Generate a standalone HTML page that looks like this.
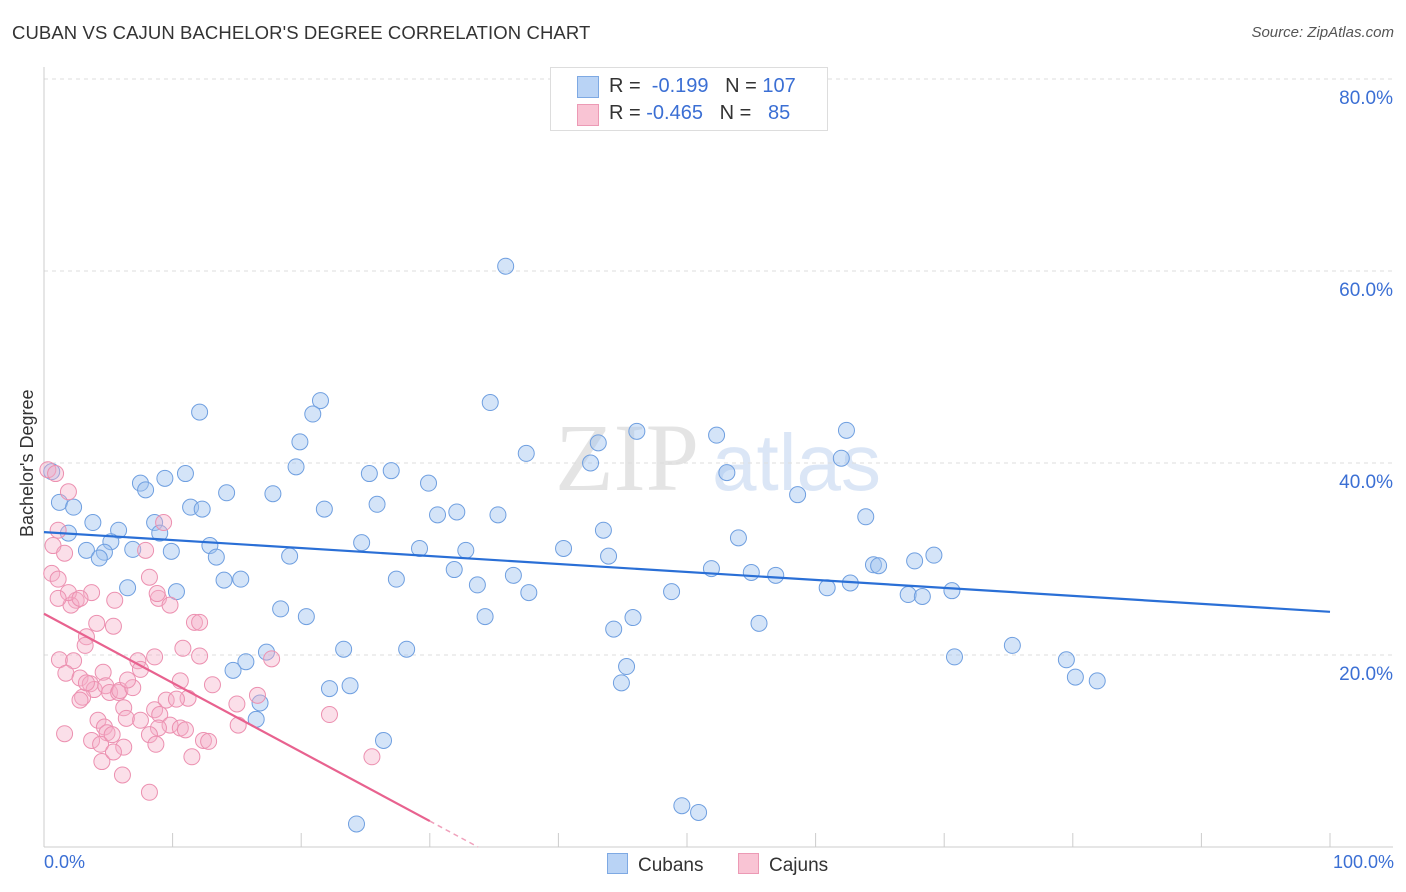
<!DOCTYPE html>
<html><head><meta charset="utf-8">
<style>
body{margin:0;background:#fff;font-family:"Liberation Sans",sans-serif;}
#wrap{position:relative;width:1406px;height:892px;overflow:hidden;}
.t{position:absolute;white-space:nowrap;}
</style></head>
<body>
<div id="wrap">
<div class="t" style="left:12px;top:22px;font-size:18.5px;color:#333;letter-spacing:0.1px">CUBAN VS CAJUN BACHELOR'S DEGREE CORRELATION CHART</div>
<div class="t" style="right:12px;top:24px;font-size:15px;color:#555;font-style:italic;">Source: ZipAtlas.com</div>
<svg id="plot" width="1406" height="892" style="position:absolute;left:0;top:0"></svg>
<div class="t" style="left:550px;top:67px;width:276px;height:62px;border:1px solid #ddd;background:#fff;font-size:20px;">
  <div style="position:absolute;left:26px;top:8px;width:20px;height:20px;background:#b9d3f5;border:1px solid #7ea9e3;"></div>
  <div style="position:absolute;left:58px;top:7px;color:#333">R = &nbsp;<span style="color:#3b6fd4">-0.199</span> &nbsp;&nbsp;N = <span style="color:#3b6fd4">107</span></div>
  <div style="position:absolute;left:26px;top:36px;width:20px;height:20px;background:#f9c4d4;border:1px solid #ec9ab5;"></div>
  <div style="position:absolute;left:58px;top:34px;color:#333">R = <span style="color:#3b6fd4">-0.465</span> &nbsp;&nbsp;N = &nbsp;&nbsp;<span style="color:#3b6fd4">85</span></div>
</div>
<div class="t" style="left:17px;top:537px;transform:rotate(-90deg);transform-origin:0 0;font-size:18px;color:#333;">Bachelor's Degree</div>
<div class="t" style="left:44px;top:852px;font-size:18px;color:#3b6fd4">0.0%</div>
<div class="t" style="right:12px;top:852px;font-size:18px;color:#3b6fd4">100.0%</div>
<div class="t" style="left:607px;top:853px;font-size:19px;color:#333"><span style="display:inline-block;width:19px;height:19px;background:#b9d3f5;border:1px solid #7ea9e3;vertical-align:-3px;margin-right:10px"></span>Cubans</div>
<div class="t" style="left:738px;top:853px;font-size:19px;color:#333"><span style="display:inline-block;width:19px;height:19px;background:#f9c4d4;border:1px solid #ec9ab5;vertical-align:-3px;margin-right:10px"></span>Cajuns</div>
</div>
<script>
const yTicks=[20,40,60,80];
const yTickLabels=["20.0%","40.0%","60.0%","80.0%"];
const xTicks=[0,10,20,30,40,50,60,70,80,90,100];
const cubanX=[35.9,12.1,21.5,20.9,34.7,19.9,43.1,46.1,52.3,62.4,37.5,42.5,62.0,53.1,19.6,25.3,27.0,11.0,9.4,7.5,7.9,29.9,0.6,1.2,2.3,14.2,17.8,25.9,30.6,32.1,35.3,58.6,63.9,11.4,12.3,21.8,8.6,9.0,3.8,5.8,1.9,5.2,43.5,54.0,3.3,4.7,4.3,6.9,9.9,12.9,13.4,24.7,29.2,32.8,40.4,19.1,43.9,69.2,67.7,31.9,27.4,36.5,33.7,51.9,55.0,56.9,64.5,64.9,14.0,15.3,6.5,10.3,37.7,48.8,60.9,62.7,67.2,68.3,70.6,18.4,20.4,34.3,44.3,45.8,55.6,75.3,70.8,79.5,80.2,81.9,17.3,15.7,23.3,28.2,14.7,45.3,44.9,22.2,23.8,16.8,16.5,26.4,49.6,50.9,24.3];
const cubanY=[60.5,45.3,46.5,45.1,46.3,42.2,42.1,43.3,42.9,43.4,41.0,40.0,40.5,39.0,39.6,38.9,39.2,38.9,38.4,37.9,37.2,37.9,39.1,35.9,35.4,36.9,36.8,35.7,34.6,34.9,34.6,36.7,34.4,35.4,35.2,35.2,33.8,32.7,33.8,33.0,32.7,31.8,33.0,32.2,30.9,30.7,30.1,31.0,30.8,31.4,30.2,31.7,31.1,30.9,31.1,30.3,30.3,30.4,29.8,28.9,27.9,28.3,27.3,29.0,28.6,28.3,29.4,29.3,27.8,27.9,27.0,26.6,26.5,26.6,27.0,27.5,26.3,26.1,26.7,24.8,24.0,24.0,22.7,23.9,23.3,21.0,19.8,19.5,17.7,17.3,20.3,19.3,20.6,20.6,18.4,18.8,17.1,16.5,16.8,15.0,13.3,11.1,4.3,3.6,2.4];
const cajunX=[0.3,0.9,1.9,1.1,0.7,1.6,0.6,1.1,2.5,2.1,1.9,1.1,3.7,2.8,4.1,3.3,3.2,5.5,5.4,1.2,2.3,1.7,2.8,3.6,3.9,3.0,2.8,4.6,4.8,5.1,5.8,5.9,6.9,6.5,6.2,4.2,4.7,4.9,3.7,4.4,5.3,6.2,4.5,6.1,8.2,7.9,8.2,8.9,9.8,9.3,8.8,11.7,12.1,10.8,8.6,7.3,7.5,12.1,10.6,11.2,9.5,10.3,8.6,9.0,9.8,10.6,11.0,8.9,8.2,8.7,12.4,12.8,13.1,15.0,15.1,16.6,17.7,22.2,25.5,11.5,7.5,5.4,6.4,1.6,3.3];
const cajunY=[39.3,38.9,37.0,33.0,31.4,30.6,28.5,27.9,25.7,25.2,26.5,25.9,26.5,25.9,23.3,21.9,21.0,25.7,23.0,19.5,19.4,18.1,17.6,17.0,16.4,15.6,15.3,18.2,16.8,16.1,16.1,16.3,16.6,17.4,14.5,13.2,12.5,11.9,11.1,10.7,11.7,10.4,8.9,7.5,5.7,30.9,28.1,25.9,25.2,33.8,26.4,23.4,23.4,20.7,19.8,19.4,18.5,19.9,17.3,15.5,15.3,15.4,14.3,13.8,12.7,12.4,12.2,12.4,11.7,10.7,11.1,11.0,16.9,14.9,12.7,15.8,19.6,13.8,9.4,9.4,13.2,9.9,13.4,11.8,17.1];
const cubanTrend=[32.8,24.5];
const cajunTrend=[24.3,-0.72];
const X0=44,X1=1330,Y0=847,Y80=79;
const xs=v=>X0+(X1-X0)*v/100;
const ys=v=>Y0-(Y0-Y80)*v/80;
const svg=document.getElementById('plot');
const NS='http://www.w3.org/2000/svg';
function mk(tag,attrs,parent){const e=document.createElementNS(NS,tag);for(const k in attrs)e.setAttribute(k,attrs[k]);(parent||svg).appendChild(e);return e;}
let wm=mk('text',{x:555,y:490,'font-size':96,'font-family':'Liberation Serif, serif',fill:'#e4e4e4'});wm.textContent='ZIP';


let wm2=mk('text',{x:712,y:490,'font-size':80,'font-family':'Liberation Sans, sans-serif',fill:'#dbe6f6'});wm2.textContent='atlas';


yTicks.forEach((t,i)=>{
 const g=mk('line',{x1:X0,x2:1393,y1:ys(t),y2:ys(t),stroke:'#ddd','stroke-dasharray':'4,4'});
 
 
 const tx=mk('text',{x:1393,y:ys(t)+25,'text-anchor':'end','font-size':19,fill:'#3b6fd4','font-family':'Liberation Sans, sans-serif'});
 tx.textContent=yTickLabels[i];
 
 
});
const ax=mk('line',{x1:X0,x2:1393,y1:Y0,y2:Y0,stroke:'#ccc'});


const ay=mk('line',{x1:X0,x2:X0,y1:67,y2:Y0,stroke:'#ccc'});


xTicks.forEach(t=>{
 const l=mk('line',{x1:xs(t),x2:xs(t),y1:Y0-14,y2:Y0,stroke:'#ccc'});
 
 
});
cubanX.forEach((x,i)=>{
 const c=mk('circle',{cx:xs(x),cy:ys(cubanY[i]),r:8,fill:'rgba(160,195,240,0.45)',stroke:'#6f9fe0','stroke-width':1});
 
 
});
cajunX.forEach((x,i)=>{
 const c=mk('circle',{cx:xs(x),cy:ys(cajunY[i]),r:8,fill:'rgba(245,175,200,0.4)',stroke:'#ec90b0','stroke-width':1});
 
 
});
const bl=mk('line',{x1:xs(0),y1:ys(cubanTrend[0]),x2:xs(100),y2:ys(cubanTrend[1]),stroke:'#2a6fd6','stroke-width':2.2});


const xe=30,xz=-cajunTrend[0]/cajunTrend[1];
const pl=mk('line',{x1:xs(0),y1:ys(cajunTrend[0]),x2:xs(xe),y2:ys(cajunTrend[0]+cajunTrend[1]*xe),stroke:'#e8628f','stroke-width':2.2});


const pd=mk('line',{x1:xs(xe),y1:ys(cajunTrend[0]+cajunTrend[1]*xe),x2:xs(xz),y2:ys(0),stroke:'#f0a0bb','stroke-width':1.5,'stroke-dasharray':'5,4'});


</script>
</body></html>
